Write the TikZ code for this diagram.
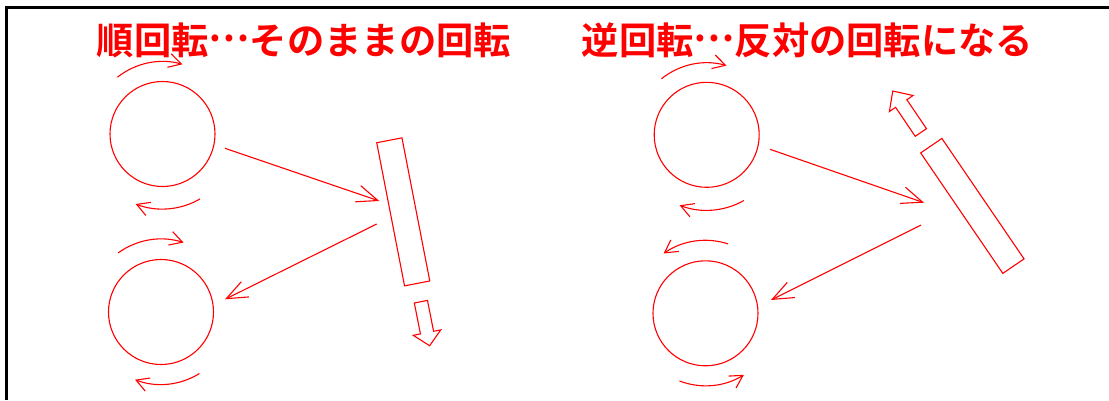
\documentclass[tikz,border=0pt]{standalone}
\usepackage{fontspec}
\newfontfamily\jp{Noto Sans CJK JP}[BoldFont={Noto Sans CJK JP Bold}]
\usetikzlibrary{arrows.meta,calc}
\definecolor{ink}{RGB}{255,0,0}
\newcommand{\middots}{\raisebox{0.33em}{…}}
\tikzset{
  rline/.style={draw=ink, line width=1.1pt},
  wheel/.style={circle, rline, minimum size=105pt, inner sep=0pt},
  board/.style={rectangle, rline, minimum width=25.7pt, minimum height=145.8pt, inner sep=0pt},
  ray/.style={rline, -{Straight Barb[length=21pt,width=17pt]}},
  spin/.style={rline, -{Straight Barb[length=12.5pt,width=14pt]}},
  block/.style={rline, line join=miter},
  title/.style={text=ink, font=\jp\bfseries\fontsize{37.3}{44}\selectfont, inner sep=0pt, anchor=base},
}
\begin{document}
\begin{tikzpicture}[x=1pt, y=-1pt]
\useasboundingbox (0,0) rectangle (1109,400);
% frame
\draw[line width=3.2pt] (6.4,400) -- (6.4,7.3) -- (1109,7.3);
% titles
\node[title] (t1) at (304,54) {順回転\middots そのままの回転};
\node[title] (t2) at (807.5,54) {逆回転\middots 反対の回転になる};
% wheels and boards
\node[wheel] (L1) at (162.5,134) {};
\node[wheel] (L2) at (161,312) {};
\node[wheel] (R1) at (706.7,134.8) {};
\node[wheel] (R2) at (705.5,313.3) {};
\node[board, rotate=11] (RL) at (403.25,211.85) {};
\node[board, rotate=34.3] (RR) at (972.35,205.9) {};
% connector ends
\coordinate (a1s) at ($(L1)+(62.5,14.3)$);
\coordinate (a1e) at ($(RL)+(-23.95,-10.85)$);
\coordinate (a2s) at ($(RL)+(-26.55,12.15)$);
\coordinate (a2e) at ($(L2)+(64,-12.7)$);
\coordinate (a3s) at ($(R1)+(63.3,14.5)$);
\coordinate (a3e) at ($(RR)+(-48.35,-3.2)$);
\coordinate (a4s) at ($(RR)+(-51.35,19.1)$);
\coordinate (a4e) at ($(R2)+(65.5,-13.3)$);
\draw[ray] (a1s) -- (a1e);
\draw[ray] (a2s) -- (a2e);
\draw[ray] (a3s) -- (a3e);
\draw[ray] (a4s) -- (a4e);
% rotation arcs
\draw[spin] ([shift={(-128.5:72.5)}]L1.center) arc[start angle=-128.5, end angle=-74, radius=72.5];
\draw[spin] ([shift={(60:75)}]L1.center) arc[start angle=60, end angle=111, radius=75];
\draw[spin] ([shift={(-126:73)}]L2.center) arc[start angle=-126, end angle=-72, radius=73];
\draw[spin] ([shift={(58:72.5)}]L2.center) arc[start angle=58, end angle=111, radius=72.5];
\draw[spin] ([shift={(-129:72)}]R1.center) arc[start angle=-129, end angle=-74, radius=72];
\draw[spin] ([shift={(60.5:75.5)}]R1.center) arc[start angle=60.5, end angle=111, radius=75.5];
\draw[spin] ([shift={(-72:73)}]R2.center) arc[start angle=-72, end angle=-125, radius=73];
\draw[spin] ([shift={(111:72.5)}]R2.center) arc[start angle=111, end angle=58, radius=72.5];
% block arrows (board motion)
\begin{scope}[shift={($(RL)+(17.65,89.85)$)}, rotate=11.2]
  \draw[block] (-6.7,0) -- (6.7,0) -- (6.7,31.5) -- (14,31.5) -- (0,44.9) -- (-14,31.5) -- (-6.7,31.5) -- cycle;
\end{scope}
\begin{scope}[shift={($(RR)+(-51.5,-73.4)$)}, rotate=34.1]
  \draw[block] (-6.8,0) -- (6.8,0) -- (6.8,-35) -- (14.3,-35) -- (0,-50.1) -- (-14.3,-35) -- (-6.8,-35) -- cycle;
\end{scope}
\end{tikzpicture}
\end{document}
